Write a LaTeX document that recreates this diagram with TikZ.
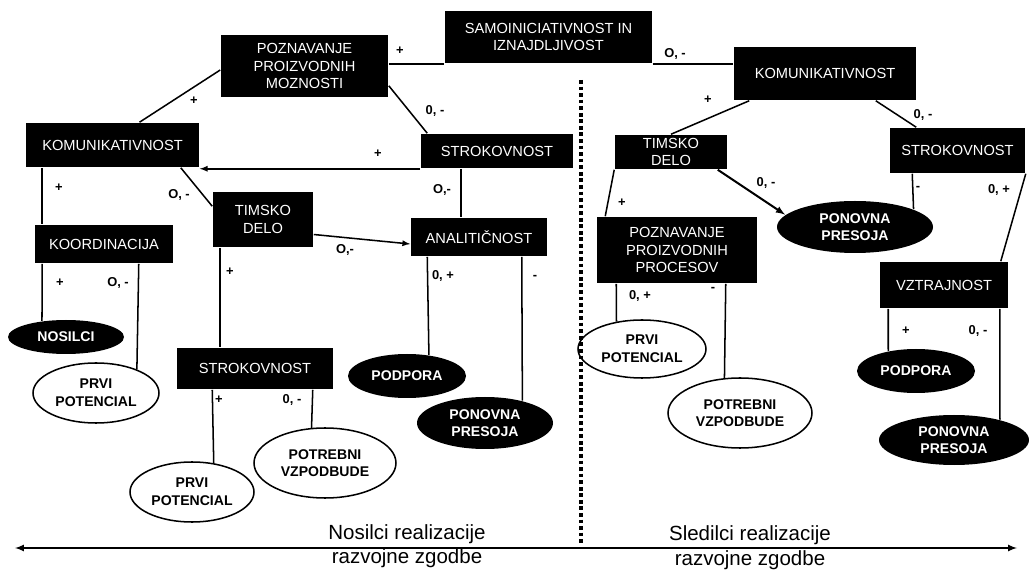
\documentclass[tikz,border=0pt]{standalone}
\usepackage{fontspec}
\setmainfont{Liberation Sans}
\usetikzlibrary{shapes.geometric,calc}

\begin{document}
\begin{tikzpicture}[>=latex,x=0.03cm,y=-0.03cm,line width=1.3pt,
	dims/.style 2 args={minimum width=#1*0.03cm,minimum height=#2*0.03cm},
	trait/.style={fill=black,text=white,align=center,inner sep=0pt,font=\fontsize{12.5}{15}\selectfont},
	blackoval/.style={ellipse,fill=black,text=white,align=center,inner sep=0pt,font=\fontsize{12}{15}\selectfont\bfseries},
	whiteoval/.style={ellipse,draw=black,fill=white,align=center,inner sep=0pt,font=\fontsize{12}{15}\selectfont\bfseries},
	sign/.style={inner sep=0pt,font=\fontsize{11}{13}\selectfont\bfseries},
	axislabel/.style={align=center,inner sep=0pt,font=\fontsize{17.5}{21}\selectfont}]

	\useasboundingbox (0,0) rectangle (1029,570);

	% traits, left half
	\node [trait,dims={207}{52}] (samo) at (548.5,37) {SAMOINICIATIVNOST IN\\IZNAJDLJIVOST};
	\node [trait,dims={167}{62}] (pozM) at (304.5,66) {POZNAVANJE\\PROIZVODNIH\\MOZNOSTI};
	\node [trait,dims={173}{44}] (komL) at (112.5,145) {KOMUNIKATIVNOST};
	\node [trait,dims={152}{34}] (strM) at (497,151) {STROKOVNOST};
	\node [trait,dims={100}{55}] (timL) at (263,219.5) {TIMSKO\\DELO};
	\node [trait,dims={138}{38}] (kor) at (104,244) {KOORDINACIJA};
	\node [trait,dims={136}{38}] (ana) at (479,237) {ANALITIČNOST};
	\node [trait,dims={156}{41}] (strB) at (255,368.5) {STROKOVNOST};

	% traits, right half
	\node [trait,dims={182}{53}] (komR) at (825,73.5) {KOMUNIKATIVNOST};
	\node [trait,dims={112}{34}] (timR) at (671,152) {TIMSKO\\DELO};
	\node [trait,dims={135}{45}] (strR) at (957.5,150.5) {STROKOVNOST};
	\node [trait,dims={160}{66}] (pozP) at (677,250) {POZNAVANJE\\PROIZVODNIH\\PROCESOV};
	\node [trait,dims={128}{46}] (vzt) at (944,285) {VZTRAJNOST};

	% outcomes
	\node [blackoval,dims={116}{34}] (nos) at (66,337) {NOSILCI};
	\node [whiteoval,dims={126}{60}] (prvL) at (96,393) {PRVI\\POTENCIAL};
	\node [whiteoval,dims={124}{60}] (prvB) at (192,492) {PRVI\\POTENCIAL};
	\node [whiteoval,dims={142}{70}] (potL) at (325,463) {POTREBNI\\VZPODBUDE};
	\node [blackoval,dims={118}{44}] (podL) at (407,376) {PODPORA};
	\node [blackoval,dims={136}{52}] (ponL) at (485,423) {PONOVNA\\PRESOJA};
	\node [blackoval,dims={156}{52}] (ponM) at (855,227) {PONOVNA\\PRESOJA};
	\node [whiteoval,dims={128}{58}] (prvR) at (642,349) {PRVI\\POTENCIAL};
	\node [whiteoval,dims={144}{70}] (potR) at (740,413) {POTREBNI\\VZPODBUDE};
	\node [blackoval,dims={118}{44}] (podR) at (916,371) {PODPORA};
	\node [blackoval,dims={150}{50}] (ponR) at (954,440) {PONOVNA\\PRESOJA};

	% links, left half
	\draw (pozM.east |- samo.south west) -- (samo.south west);
	\draw (samo.south east) -- (samo.south east -| komR.west);
	\draw ($(pozM.west)+(0,4)$) -- ($(komL.north)+(27,0)$);
	\draw ($(pozM.south east)+(0,-12)$) -- ($(strM.north west)+(7,0)$);
	\draw [->] (strM.south west) -- (strM.south west -| komL.east);
	\draw ($(komL.south east)+(-19,0)$) -- ($(timL.north west)+(0,15)$);
	\draw ($(komL.south west)+(17,0)$) -- ($(kor.north west)+(8,0)$);
	\draw ($(strM.south west)+(41,0)$) -- ($(ana.north west)+(51,0)$);
	\draw [->] ($(timL.east)+(0,15)$) -- ($(ana.west)+(0,7)$);
	\draw ($(kor.south west)+(8,0)$) -- (nos.146);
	\draw ($(kor.south east)+(-35,0)$) -- (prvL.30);
	\draw ($(timL.south west)+(8,0)$) -- ($(strB.north west)+(44,0)$);
	\draw ($(strB.south west)+(36,0)$) -- (prvB.53);
	\draw ($(strB.south east)+(-21,0)$) -- (potL.111);
	\draw ($(ana.south west)+(17,0)$) -- (podL.44);
	\draw ($(ana.south east)+(-26,0)$) -- (ponL.31);

	% links, right half
	\draw ($(komR.south west)+(16,0)$) -- (timR.north);
	\draw ($(komR.south east)+(-41,0)$) -- ($(strR.north west)+(27,0)$);
	\draw [->,line width=1.7pt] ($(timR.south east)+(-10,0)$) -- (ponM.170);
	\draw (timR.south west) -- ($(pozP.north west)+(9,0)$);
	\draw ($(strR.south west)+(23,0)$) -- (ponM.17);
	\draw (strR.south east) -- ($(vzt.north east)+(-8,0)$);
	\draw ($(pozP.south west)+(20,0)$) -- (prvR.133);
	\draw ($(pozP.south east)+(-32,0)$) -- (potR.114);
	\draw ($(vzt.south west)+(9,0)$) -- (podR.144);
	\draw ($(vzt.south east)+(-9,0)$) -- (ponR.24);

	% signs on the links
	\foreach \x/\y/\txt [count=\i] in {400/51/+, 675/54/{O, -}, 194/101/+, 435/111/{0, -},
		378/154/+, 179/195/{O, -}, 59/188/+, 442/190/{O,-}, 345/250/{O,-},
		60/283/+, 118/283/{O, -}, 230/272/+, 443/276/{0, +}, 535/277/-,
		219/400/+, 292/400/{0, -}, 708/100/+, 923/115/{0, -}, 766/183/{0, -},
		918/188/-, 999/190/{0, +}, 622/203/+, 640/296/{0, +}, 713/289/-,
		906/331/+, 978/331/{0, -}}
		\node [sign] (s\i) at (\x,\y) {\txt};

	% divider
	\coordinate (divT) at (581,80);
	\coordinate (divB) at (581,543);
	\draw [line width=3.2pt,dash pattern=on 3.2pt off 2.4pt] (divT) -- (divB);

	% axis
	\coordinate (axisL) at (15,548);
	\coordinate (axisR) at (1017,548);
	\draw [<->,line width=1.6pt] (axisL) -- (axisR);
	\node [axislabel] (lead) at (407,546) {Nosilci realizacije\\razvojne zgodbe};
	\node [axislabel] (follow) at (750,548) {Sledilci realizacije\\razvojne zgodbe};
\end{tikzpicture}
\end{document}
